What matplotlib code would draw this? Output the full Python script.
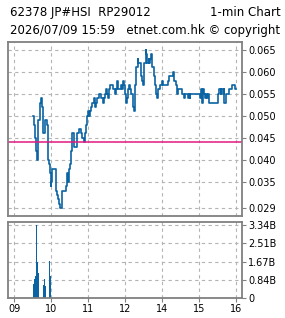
import matplotlib
matplotlib.use("Agg")
import matplotlib.pyplot as plt
import numpy as np

# ---- data ----
# trading minutes since 09:30 (lunch 12:00-13:00 removed)
minutes = [0, 2, 3, 5, 7, 8, 9, 11, 12, 14, 15, 17, 18, 20, 22, 23, 24, 26, 28, 29,
           30, 32, 35, 37, 40, 41, 43, 44, 47, 48, 50, 54, 55, 57, 59, 60, 62, 63, 65, 67,
           69, 72, 74, 75, 77, 79, 80, 82, 83, 85, 87, 88, 90, 92, 93, 95, 96, 98, 100, 101,
           103, 105, 106, 108, 109, 111, 113, 114, 116, 118, 119, 121, 122, 124, 126, 127, 129, 131, 132, 134,
           135, 137, 139, 140, 142, 144, 145, 147, 148, 150, 152, 153, 155, 157, 158, 160, 162, 163, 165, 166,
           168, 170, 171, 173, 175, 176, 178, 179, 181, 183, 184, 186, 188, 189, 191, 192, 194, 196, 197, 198,
           200, 201, 203, 204, 206, 208, 209, 211, 212, 214, 216, 217, 219, 221, 222, 224, 225, 227, 229, 230,
           232, 234, 235, 237, 238, 240, 242, 243, 245, 247, 248, 250, 252, 253, 255, 256, 270, 271, 273, 274,
           276, 278, 279, 281, 282, 284, 286, 300, 301, 303, 305, 306, 308, 310, 311, 313, 314, 316, 318, 322,
           324, 327, 329, 330]
prices = [0.050, 0.048, 0.045, 0.042, 0.040, 0.043, 0.049, 0.049, 0.053, 0.054, 0.052, 0.046, 0.046, 0.049, 0.049, 0.048, 0.040, 0.039, 0.037, 0.034,
          0.035, 0.038, 0.038, 0.033, 0.032, 0.031, 0.030, 0.029, 0.029, 0.033, 0.033, 0.034, 0.037, 0.035, 0.038, 0.039, 0.042, 0.046, 0.046, 0.043,
          0.043, 0.046, 0.046, 0.047, 0.047, 0.046, 0.045, 0.045, 0.044, 0.046, 0.048, 0.050, 0.051, 0.050, 0.051, 0.052, 0.053, 0.053, 0.054, 0.052,
          0.053, 0.054, 0.054, 0.055, 0.055, 0.054, 0.054, 0.053, 0.054, 0.055, 0.056, 0.055, 0.054, 0.056, 0.057, 0.057, 0.057, 0.056, 0.056, 0.055,
          0.056, 0.058, 0.056, 0.056, 0.056, 0.057, 0.056, 0.058, 0.057, 0.055, 0.053, 0.054, 0.056, 0.057, 0.056, 0.055, 0.054, 0.052, 0.051, 0.057,
          0.061, 0.063, 0.062, 0.062, 0.062, 0.059, 0.058, 0.057, 0.062, 0.065, 0.064, 0.062, 0.063, 0.062, 0.063, 0.064, 0.061, 0.061, 0.059, 0.057,
          0.055, 0.054, 0.056, 0.056, 0.057, 0.057, 0.058, 0.058, 0.057, 0.057, 0.057, 0.057, 0.058, 0.059, 0.059, 0.059, 0.059, 0.060, 0.059, 0.058,
          0.057, 0.055, 0.056, 0.056, 0.056, 0.056, 0.055, 0.055, 0.054, 0.055, 0.055, 0.055, 0.054, 0.055, 0.054, 0.055, 0.055, 0.054, 0.056, 0.053,
          0.056, 0.055, 0.054, 0.055, 0.054, 0.055, 0.053, 0.053, 0.055, 0.056, 0.055, 0.056, 0.055, 0.056, 0.053, 0.054, 0.055, 0.055, 0.056, 0.056,
          0.057, 0.057, 0.056, 0.056]

vol_minutes = [2, 3, 5, 6, 8, 9, 17, 19, 20, 27, 28, 29, 81, 182, 236]
volumes = [0.65e9, 0.87e9, 0.99e9, 3.34e9, 1.67e9, 1.16e9, 0.60e9, 0.88e9, 0.55e9, 1.70e9, 0.35e9, 1.00e9, 0.03e9, 0.02e9, 0.02e9]

ref_price = 0.044
price_ticks = [0.029, 0.035, 0.040, 0.045, 0.050, 0.055, 0.060, 0.065]
vol_ticks = [0, 0.84e9, 1.67e9, 2.51e9, 3.34e9]
vol_tick_labels = ["0", "0.84B", "1.67B", "2.51B", "3.34B"]
hour_ticks = [9, 10, 11, 12, 13, 14, 15]
hour_labels = ["09", "10", "11", "12", "14", "15", "16"]

title_l1 = "62378 JP#HSI  RP29012"
title_r1 = "1-min Chart"
title_l2 = "2026/07/09 15:59   etnet.com.hk \u00a9 copyright"

# ---- drawing ----
W, H = 285, 318
fig = plt.figure(figsize=(W / 100, H / 100), dpi=100)
plt.rcParams['font.family'] = ['DejaVu Sans']

def ax_rect(l, t, r, b):
    return [l / W, (H - b) / H, (r - l) / W, (b - t) / H]

ax1 = fig.add_axes(ax_rect(8, 42, 242, 216))
ax2 = fig.add_axes(ax_rect(8, 222, 242, 298))

blue = "#0a64a4"
grid_c = "#b4b4b4"
spine_c = "#808080"

x_price = 9.5 + np.array(minutes) / 60.0
ax1.plot(x_price, prices, drawstyle="steps-post", color=blue, lw=1.2)
ax1.axhline(ref_price, color="#e0197d", lw=1.1)

x_vol = 9.5 + np.array(vol_minutes) / 60.0
ax2.bar(x_vol, volumes, width=2.0 / 60, color=blue, align="center", lw=0)

for ax in (ax1, ax2):
    ax.set_xlim(8.83, 15.16)
    ax.set_xticks(hour_ticks)
    ax.grid(True, color=grid_c, ls=(0, (3, 3)), lw=0.8)
    for s in ax.spines.values():
        s.set_color(spine_c)
        s.set_linewidth(1.3)
    ax.yaxis.tick_right()
    ax.tick_params(axis="both", colors=spine_c, labelcolor="black", length=3,
                   width=0.8, labelsize=7, pad=1.5)
    ax.set_axisbelow(True)

ax1.set_ylim(0.0272, 0.0668)
ax1.set_yticks(price_ticks)
ax1.set_yticklabels([f"{v:.3f}" for v in price_ticks])
ax1.tick_params(axis="x", labelbottom=False, length=0)

ax2.set_ylim(0, 3.48e9)
ax2.set_yticks(vol_ticks)
ax2.set_yticklabels(vol_tick_labels)
ax2.set_xticklabels(hour_labels)

fig.text(10 / W, 1 - 15.7 / H, title_l1, fontsize=8.5, va="baseline", ha="left")
fig.text(281 / W, 1 - 15.7 / H, title_r1, fontsize=8.5, va="baseline", ha="right")
fig.text(10 / W, 1 - 34.3 / H, title_l2, fontsize=8.5, va="baseline", ha="left")

fig.savefig("out.png", dpi=100)
